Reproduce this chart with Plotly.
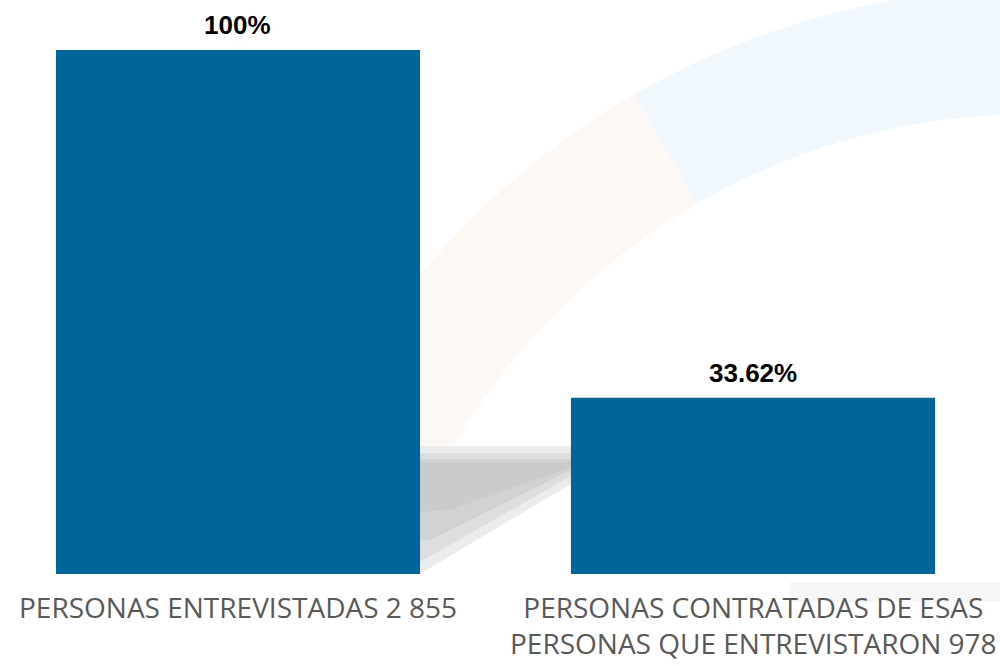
import math
import plotly.graph_objects as go

# Data
categories = ["PERSONAS ENTREVISTADAS 2 855",
              "PERSONAS CONTRATADAS DE ESAS<br>PERSONAS QUE ENTREVISTARON 978"]
values = [100.0, 33.62]
value_labels = ["100%", "33.62%"]

BAR_COLOR = "#006699"
W, H = 1000, 666
PLOT_BOTTOM = 574  # pixel row of the x axis
LABEL_TOP = 586    # top edge of the category-label text boxes (px)


def to_paper(px, py):
    """Pixel position on the page -> paper coordinates of the plot area."""
    return px / W, (PLOT_BOTTOM - py) / PLOT_BOTTOM


def band_path(cx, cy, r_in, r_out, a0, a1, n=80):
    """Closed SVG path of a circular band between two angles (degrees)."""
    pts = []
    for i in range(n + 1):
        a = math.radians(a0 + (a1 - a0) * i / n)
        pts.append(to_paper(cx + r_out * math.cos(a), cy - r_out * math.sin(a)))
    for i in range(n + 1):
        a = math.radians(a1 - (a1 - a0) * i / n)
        pts.append(to_paper(cx + r_in * math.cos(a), cy - r_in * math.sin(a)))
    return "M " + " L ".join(f"{x:.4f},{y:.4f}" for x, y in pts) + " Z"


def poly_path(points):
    pp = [to_paper(x, y) for x, y in points]
    return "M " + " L ".join(f"{x:.4f},{y:.4f}" for x, y in pp) + " Z"


def bg_shape(path, color):
    return dict(type="path", xref="paper", yref="paper", layer="below",
                path=path, fillcolor=color, line=dict(width=0))


x_pos = list(range(len(categories)))

fig = go.Figure()
fig.add_trace(go.Bar(
    x=x_pos,
    y=values,
    width=0.707,
    marker=dict(color=BAR_COLOR, line=dict(width=0)),
    hoverinfo="skip",
))

# Value labels above the bars
for xi, v, lab in zip(x_pos, values, value_labels):
    fig.add_annotation(
        x=xi, y=v, xref="x", yref="y",
        text=f"<b>{lab}</b>",
        showarrow=False, yanchor="bottom", yshift=8,
        font=dict(family="Liberation Sans, Arial", size=26, color="#000000"),
    )

# Category labels under the bars
for xi, cat in zip(x_pos, categories):
    fig.add_annotation(
        x=xi, y=0, xref="x", yref="paper",
        text=cat, showarrow=False,
        xanchor="center", yanchor="top", align="center",
        yshift=-(LABEL_TOP - PLOT_BOTTOM),
        font=dict(family="Open Sans", size=28, color="#595959"),
    )

# Faint decorative background: a wide two-tone arc and a soft grey floor shadow
shapes = [
    bg_shape(band_path(1032, 784, 670, 796, 80, 120), "#f1f8fd"),
    bg_shape(band_path(1032, 784, 670, 796, 120, 160), "#fdf8f4"),
    bg_shape(poly_path([(420, 446), (571, 446), (571, 484), (420, 574)]), "#ececec"),
    bg_shape(poly_path([(420, 453), (571, 453), (571, 476), (420, 562)]), "#dedede"),
    bg_shape(poly_path([(420, 459), (571, 459), (571, 470), (430, 540), (420, 540)]), "#d2d2d2"),
    bg_shape(poly_path([(420, 462), (571, 462), (571, 467), (450, 510), (420, 512)]), "#cbcbcb"),
    bg_shape(poly_path([(790, 582), (1000, 582), (1000, 602), (790, 602)]), "#f6f6f6"),
]

fig.update_layout(
    width=W, height=H,
    margin=dict(l=0, r=0, t=0, b=H - PLOT_BOTTOM, autoexpand=False),
    paper_bgcolor="white", plot_bgcolor="rgba(0,0,0,0)",
    showlegend=False,
    shapes=shapes,
    xaxis=dict(
        range=[-0.4621, 1.4796],
        tickmode="array", tickvals=x_pos, showticklabels=False,
        showgrid=False, zeroline=False, showline=False, ticks="",
        automargin=False,
    ),
    yaxis=dict(
        range=[0, 109.54], visible=False, showgrid=False, zeroline=False,
        automargin=False,
    ),
)

fig.write_html("out.html")
